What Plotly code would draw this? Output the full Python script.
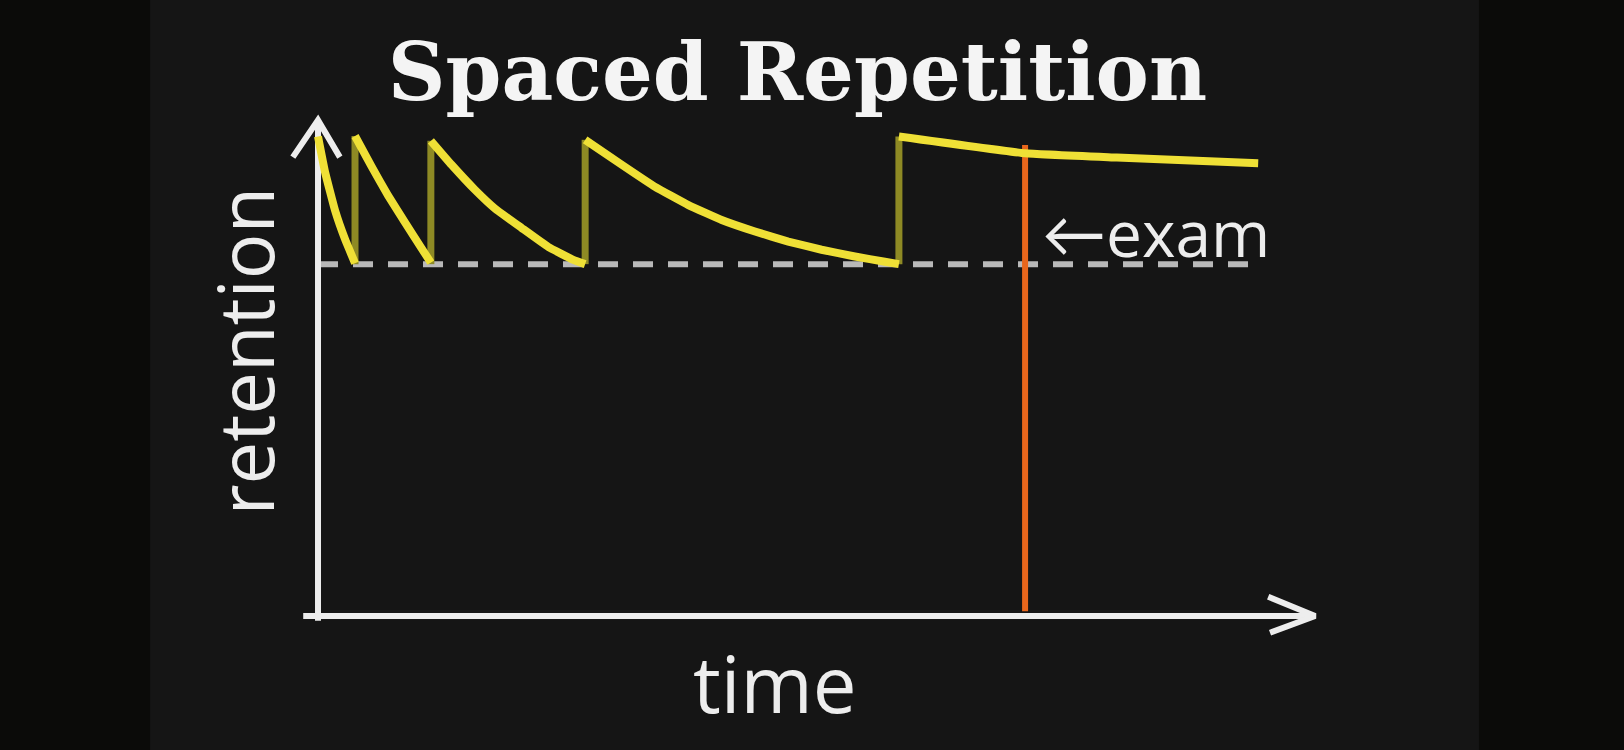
import plotly.graph_objects as go

# days on which the material is reviewed, and the retention reached right after
review_days = [0.0, 1.0, 3.05, 7.22, 15.70]
review_peaks = [99.9, 100.0, 99.0, 99.2, 99.9]
threshold = 73.3          # dashed "minimum retention" line
exam_day = 19.11
dash_end = 25.54

# forgetting curve after each review
seg_days = [
    [0.0, 0.19, 0.46, 0.73, 1.0],
    [1.0, 1.45, 1.90, 2.35, 2.80, 3.05],
    [3.05, 3.61, 4.24, 4.78, 5.51, 6.22, 6.90, 7.22],
    [7.22, 8.21, 9.11, 10.01, 10.91, 11.81, 12.71, 13.61, 14.51, 15.32, 15.70],
    [15.70, 19.11, 21.59, 25.41],
]
seg_retention = [
    [99.9, 92.5, 84.5, 78.5, 73.5],
    [100.0, 93.6, 87.5, 82.0, 76.6, 73.6],
    [99.0, 94.0, 88.8, 84.9, 80.8, 76.9, 74.2, 73.3],
    [99.2, 94.0, 89.4, 85.6, 82.5, 80.1, 78.0, 76.3, 74.9, 73.8, 73.3],
    [99.9, 96.4, 95.5, 94.3],
]

x_tip = 26.95     # end of the time arrow
y_tip = 103.3     # end of the retention arrow

CHALK = "#ededed"
YELLOW = "#efe036"
OLIVE = "#8e8a24"
ORANGE = "#e8661c"
HAND = "Open Sans, Lato, sans-serif"

fig = go.Figure()

# dashed threshold
fig.add_trace(go.Scatter(
    x=[0, dash_end], y=[threshold, threshold], mode="lines",
    line=dict(color="#b9b9b9", width=6, dash="20px,15px"),
))

# axes drawn as chalk strokes
fig.add_trace(go.Scatter(
    x=[0, 0, None, -0.68, 0, 0.59],
    y=[-1, y_tip, None, y_tip - 7.7, y_tip, y_tip - 7.7],
    mode="lines", line=dict(color=CHALK, width=6),
))
fig.add_trace(go.Scatter(
    x=[-0.4, x_tip, None, x_tip - 1.27, x_tip, x_tip - 1.22],
    y=[0, 0, None, 4.0, 0, -3.5],
    mode="lines", line=dict(color=CHALK, width=6),
))

# exam day
fig.add_trace(go.Scatter(
    x=[exam_day, exam_day], y=[1.0, 98.1], mode="lines",
    line=dict(color=ORANGE, width=6),
))

# jumps back up at each review (fainter chalk)
vx, vy = [], []
for d, p in zip(review_days[1:], review_peaks[1:]):
    vx += [d, d, None]
    vy += [threshold, p, None]
fig.add_trace(go.Scatter(x=vx, y=vy, mode="lines", line=dict(color=OLIVE, width=7)))

# forgetting curves
cx, cy = [], []
for xs, ys in zip(seg_days, seg_retention):
    cx += xs + [None]
    cy += ys + [None]
fig.add_trace(go.Scatter(x=cx, y=cy, mode="lines",
                         line=dict(color=YELLOW, width=8, shape="spline", smoothing=0.3)))

fig.add_annotation(x=19.5, y=79.8, xref="x", yref="y", text="←exam", showarrow=False,
                   xanchor="left", yanchor="middle", font=dict(family=HAND, size=64, color=CHALK))
fig.add_annotation(x=0.477, y=0.089, xref="paper", yref="paper", text="time", showarrow=False,
                   xanchor="center", yanchor="middle",
                   font=dict(family=HAND, size=78, color=CHALK))
fig.add_annotation(x=0.150, y=0.532, xref="paper", yref="paper", text="retention", showarrow=False,
                   xanchor="center", yanchor="middle", textangle=-90,
                   font=dict(family=HAND, size=76, color=CHALK))

fig.add_shape(type="rect", xref="paper", yref="paper", x0=0.0924, x1=0.9107, y0=0, y1=1,
              fillcolor="#151515", line_width=0, layer="below")

fig.update_layout(
    width=1624, height=750,
    margin=dict(l=0, r=0, t=0, b=0),
    paper_bgcolor="#0b0b09", plot_bgcolor="rgba(0,0,0,0)",
    showlegend=False,
    title=dict(text="<b>Spaced Repetition</b>", x=0.491, y=0.904, xanchor="center", yanchor="middle",
               font=dict(family="DejaVu Serif", size=80, color="#f4f4f4")),
    xaxis=dict(range=[-8.595, 35.297], visible=False, fixedrange=True),
    yaxis=dict(range=[-27.92, 128.33], visible=False, fixedrange=True),
)

fig.write_html("out.html", config={"displayModeBar": False},
               post_script="document.body.style.margin='0';document.body.style.overflow='hidden';")
